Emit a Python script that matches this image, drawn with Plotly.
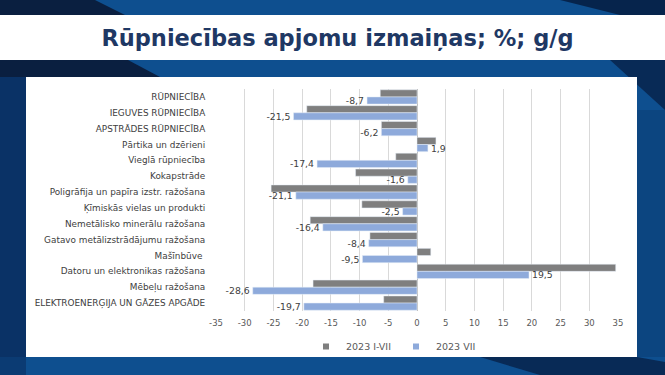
import plotly.graph_objects as go

# nozares (no augšas uz leju)
categories = [
    "RŪPNIECĪBA",
    "IEGUVES RŪPNIECĪBA",
    "APSTRĀDES RŪPNIECĪBA",
    "Pārtika un dzērieni",
    "Vieglā rūpniecība",
    "Kokapstrāde",
    "Poligrāfija un papīra izstr. ražošana",
    "Ķīmiskās vielas un produkti",
    "Nemetālisko minerālu ražošana",
    "Gatavo metālizstrādājumu ražošana",
    "Mašīnbūve ",
    "Datoru un elektronikas ražošana",
    "Mēbeļu ražošana",
    "ELEKTROENERĢIJA UN GĀZES APGĀDE",
]
val_i_vii = [-6.4, -19.2, -6.2, 3.3, -3.7, -10.7, -25.4, -9.6, -18.6, -8.2, 2.4, 34.6, -18.1, -5.8]
val_vii = [-8.7, -21.5, -6.2, 1.9, -17.4, -1.6, -21.1, -2.5, -16.4, -8.4, -9.5, 19.5, -28.6, -19.7]
x_ticks = [-35, -30, -25, -20, -15, -10, -5, 0, 5, 10, 15, 20, 25, 30, 35]

col_i_vii = "#7f7f7f"
col_vii = "#8eaadb"

W, H = 665, 375
L, R, T, B = 216, 47, 89, 64
PW, PH = W - L - R, H - T - B


def px(x):
    return (x - L) / PW


def py(y):
    return 1 - (y - T) / PH


def rect(x0, y0, x1, y1, color):
    return dict(type="rect", xref="paper", yref="paper", layer="below",
                x0=px(x0), x1=px(x1), y0=py(y1), y1=py(y0),
                fillcolor=color, line=dict(width=0))


def poly(points, color):
    path = "M " + " L ".join(f"{px(a)},{py(b)}" for a, b in points) + " Z"
    return dict(type="path", xref="paper", yref="paper", layer="below",
                path=path, fillcolor=color, line=dict(width=0))


fig = go.Figure()
fig.add_trace(go.Bar(
    y=categories, x=val_i_vii, orientation="h", name="2023 I-VII",
    marker=dict(color=col_i_vii), showlegend=False,
))
fig.add_trace(go.Bar(
    y=categories, x=val_vii, orientation="h", name="2023 VII",
    marker=dict(color=col_vii), showlegend=False,
    text=[f"{v:.1f}".replace(".", ",") for v in val_vii],
    textposition="outside", cliponaxis=False, constraintext="none",
    textfont=dict(family="DejaVu Sans", size=9.3, color="#404040"),
))
# leģendas kvadrātiņi
for name, col in [("2023 I-VII", col_i_vii), ("2023 VII", col_vii)]:
    fig.add_trace(go.Scatter(
        x=[None], y=[None], mode="markers", name=name,
        marker=dict(symbol="square", size=6, color=col),
    ))

shapes = [
    # fona gradients aptuveni
    poly([(0, 0), (95, 0), (125, 15), (0, 15)], "#0a1f40"),
    poly([(560, 0), (665, 0), (665, 15), (620, 15)], "#06244c"),
    poly([(0, 60), (128, 60), (160, 77), (0, 77)], "#0a1f40"),
    poly([(610, 60), (665, 60), (665, 110)], "#082a56"),
    rect(0, 77, 26, 357, "#0a3266"),
    poly([(0, 357), (26, 357), (26, 375), (0, 375)], "#0b3b73"),
    poly([(480, 357), (637, 357), (665, 362), (665, 375), (540, 375)], "#082a56"),
    rect(637, 110, 665, 357, "#0c4580"),
    # balti laukumi
    rect(0, 15, 665, 60, "#ffffff"),
    rect(26, 77, 637, 357, "#ffffff"),
]

fig.update_layout(
    width=W, height=H,
    margin=dict(l=L, r=R, t=T, b=B, autoexpand=False),
    paper_bgcolor="#0e4f8f",
    plot_bgcolor="#ffffff",
    barmode="group", bargap=0.1, bargroupgap=0,
    shapes=shapes,
    title=dict(
        text="<b>Rūpniecības apjomu izmaiņas; %; g/g</b>",
        x=0.5 + 5 / W, xanchor="center", xref="container",
        y=1 - 38 / H, yanchor="middle", yref="container",
        font=dict(family="DejaVu Sans", size=22.5, color="#1f3864"),
    ),
    xaxis=dict(
        range=[-35, 35], tickvals=x_ticks, ticktext=[str(v) for v in x_ticks],
        showgrid=True, gridcolor="#d9d9d9", gridwidth=1,
        zeroline=True, zerolinecolor="#bfbfbf", zerolinewidth=1,
        showline=False, ticks="outside", ticklen=4, tickcolor="rgba(0,0,0,0)",
        tickfont=dict(family="DejaVu Sans", size=8.5, color="#595959"),
    ),
    yaxis=dict(
        autorange="reversed", showgrid=False, zeroline=False, showline=False,
        ticks="outside", ticklen=8, tickcolor="rgba(0,0,0,0)",
        tickfont=dict(family="DejaVu Sans", size=8.9, color="#404040"),
    ),
    legend=dict(
        orientation="h", x=px(306), xanchor="left", y=py(332), yanchor="top",
        font=dict(family="DejaVu Sans", size=9.5, color="#595959"),
        bgcolor="rgba(0,0,0,0)", itemwidth=30, traceorder="normal",
    ),
    font=dict(family="DejaVu Sans"),
)

fig.write_html("out.html", config={"displayModeBar": False},
               post_script="document.body.style.margin='0';")
